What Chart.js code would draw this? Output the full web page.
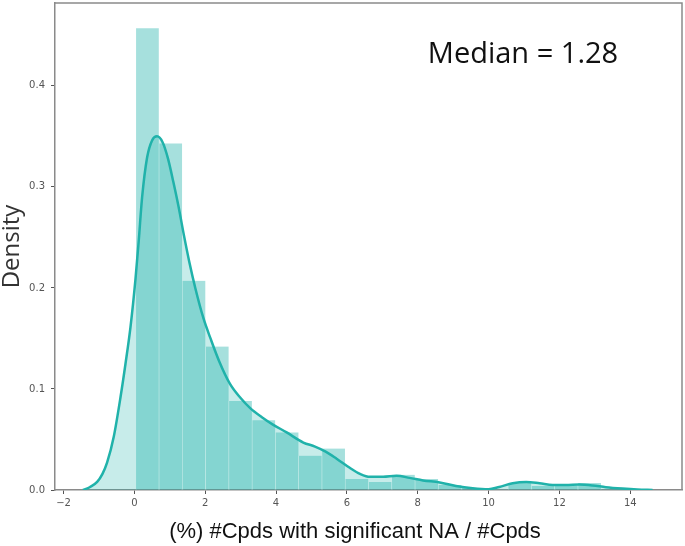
<!DOCTYPE html>
<html>
<head>
<meta charset="utf-8">
<script src="https://cdn.jsdelivr.net/npm/chart.js@4.4.0/dist/chart.umd.min.js"></script>
<style>
  html, body { margin: 0; padding: 0; background: #fff; }
  #wrap { width: 685px; height: 546px; }
</style>
</head>
<body>
<div id="wrap"><canvas id="grafico" width="685" height="546"></canvas></div>
<script>
// histograma (densidade) - centros dos bins e alturas
const binCenters = [0.369, 1.026, 1.683, 2.340, 2.997, 3.654, 4.311, 4.968, 5.625, 6.282,
                    6.939, 7.596, 8.253, 8.910, 9.567, 10.224, 10.881, 11.538, 12.195, 12.852];
const binDensity = [0.457, 0.343, 0.207, 0.142, 0.088, 0.069, 0.057, 0.034, 0.041, 0.011,
                    0.008, 0.015, 0.011, 0.005, 0.002, 0.000, 0.007, 0.004, 0.004, 0.007];

// curva KDE
const kdeX = [-1.45, -1.25, -1.05, -0.9, -0.77, -0.58, -0.39, -0.25, -0.11, 0.03,
              0.12, 0.22, 0.36, 0.5, 0.64, 0.8, 0.95, 1.1, 1.25, 1.4,
              1.55, 1.72, 1.95, 2.15, 2.4, 2.7, 3.0, 3.27, 3.6, 3.9,
              4.3, 4.77, 5.1, 5.4, 5.71, 6.08, 6.37, 6.65, 7.02, 7.40,
              7.77, 8.15, 8.62, 9.08, 9.55, 10.0, 10.3, 10.68, 11.06, 11.44,
              11.81, 12.18, 12.56, 12.94, 13.31, 13.78, 14.2, 14.63];
const kdeY = [0.000, 0.003, 0.008, 0.016, 0.027, 0.053, 0.092, 0.125, 0.161, 0.208,
              0.245, 0.290, 0.329, 0.346, 0.350, 0.344, 0.328, 0.305, 0.280, 0.252,
              0.226, 0.200, 0.170, 0.150, 0.127, 0.105, 0.091, 0.081, 0.072, 0.065,
              0.057, 0.047, 0.043, 0.038, 0.031, 0.022, 0.016, 0.013, 0.013, 0.014,
              0.012, 0.0095, 0.0075, 0.004, 0.0017, 0.0007, 0.003, 0.0067, 0.008, 0.0067,
              0.005, 0.005, 0.0054, 0.0045, 0.0028, 0.0014, 0.0005, 0.000];

const xTicks = [-2, 0, 2, 4, 6, 8, 10, 12, 14];
const yTicks = [0, 0.1, 0.2, 0.3, 0.4];

const tituloX = "(%) #Cpds with significant NA / #Cpds";
const tituloY = "Density";
const textoMediana = "Median = 1.28";

const corEixo = "#8a8a8a";
const corTick = "#555";

// moldura (topo e direita) + textos soltos
const moldura = {
  id: "moldura",
  afterDraw(chart) {
    const { ctx, chartArea: a } = chart;
    ctx.save();
    ctx.strokeStyle = corEixo;
    ctx.lineWidth = 1.5;
    ctx.beginPath();
    ctx.moveTo(a.left, a.top);
    ctx.lineTo(a.right, a.top);
    ctx.lineTo(a.right, a.bottom);
    ctx.stroke();

    ctx.fillStyle = "#111";
    ctx.textAlign = "center";
    ctx.textBaseline = "alphabetic";
    ctx.font = "29px 'Open Sans'";
    ctx.fillText(textoMediana, 523, 63);

    ctx.font = "22px 'Liberation Sans'";
    ctx.fillText(tituloX, 355, 538);
    ctx.restore();
  }
};

const ctx = document.getElementById("grafico").getContext("2d");
const grafico = new Chart(ctx, {
  type: "line",
  data: {
    datasets: [
      {
        type: "line",
        data: kdeX.map((x, i) => ({ x, y: kdeY[i] })),
        borderColor: "#20b2aa",
        borderWidth: 2.5,
        backgroundColor: "rgba(32,178,170,0.25)",
        fill: "origin",
        pointRadius: 0,
        cubicInterpolationMode: "monotone",
        order: 1
      },
      {
        type: "bar",
        data: binCenters.map((x, i) => ({ x, y: binDensity[i] })),
        backgroundColor: "rgba(32,178,170,0.4)",
        borderColor: "rgba(255,255,255,0.85)",
        borderWidth: { left: 0.6, right: 0.6, top: 0, bottom: 0 },
        borderSkipped: false,
        barPercentage: 1,
        categoryPercentage: 1,
        order: 2
      }
    ]
  },
  options: {
    responsive: false,
    animation: false,
    devicePixelRatio: 1,
    layout: { autoPadding: false, padding: { top: 3, right: 3, left: 0, bottom: 0 } },
    plugins: { legend: { display: false }, tooltip: { enabled: false } },
    scales: {
      x: {
        type: "linear",
        min: -2.24,
        max: 15.46,
        offset: false,
        grid: { offset: false, drawOnChartArea: false, drawTicks: true, tickLength: 4, tickColor: corTick },
        border: { color: corEixo, width: 1.5 },
        afterBuildTicks: s => { s.ticks = xTicks.map(v => ({ value: v })); },
        afterFit: s => {
          s.height = 56;
          s.paddingLeft = 0; s.paddingRight = 0;
          s.paddingTop = 0; s.paddingBottom = 0;
        },
        ticks: {
          autoSkip: false,
          maxRotation: 0,
          padding: 3,
          color: corTick,
          font: { family: "DejaVu Sans", size: 10 },
          callback: v => (v < 0 ? "\u2212" + Math.abs(v) : String(v))
        }
      },
      y: {
        min: 0,
        max: 0.482,
        grid: { drawOnChartArea: false, drawTicks: true, tickLength: 4, tickColor: corTick },
        border: { color: corEixo, width: 1.5 },
        afterBuildTicks: s => { s.ticks = yTicks.map(v => ({ value: v })); },
        afterFit: s => {
          s.width = 55;
          s.paddingLeft = 0; s.paddingRight = 0;
          s.paddingTop = 0; s.paddingBottom = 0;
        },
        title: {
          display: true,
          text: tituloY,
          color: "#333",
          padding: 0,
          font: { family: "Open Sans", size: 24, lineHeight: 1 }
        },
        ticks: {
          padding: 6,
          color: corTick,
          font: { family: "DejaVu Sans", size: 10 },
          callback: v => v.toFixed(1)
        }
      }
    }
  },
  plugins: [moldura]
});
</script>
</body>
</html>
